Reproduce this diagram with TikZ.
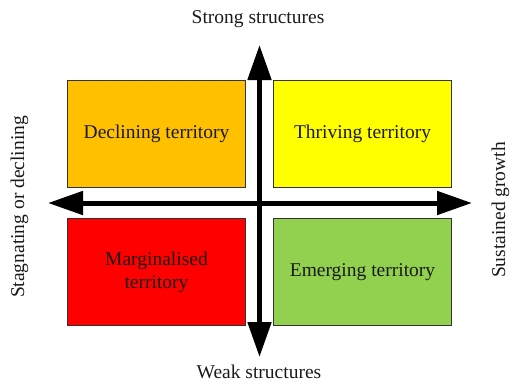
\documentclass[tikz,border=0pt]{standalone}
\usepackage{fontspec}
\setmainfont{Liberation Serif}
\usetikzlibrary{arrows.meta}
\definecolor{declining}{HTML}{FFC000}
\definecolor{thriving}{HTML}{FFFF00}
\definecolor{marginal}{HTML}{FF0000}
\definecolor{emerging}{HTML}{92D050}
\definecolor{edge}{HTML}{333333}
\definecolor{ink}{HTML}{1A1A1A}
\begin{document}
\begin{tikzpicture}[x=1pt,y=-1pt,
  every node/.style={font=\fontsize{19.5}{23}\selectfont, text=ink},
  quadrant/.style={draw=edge, line width=1pt, minimum width=178pt,
    minimum height=107pt, inner sep=0pt, align=center},
  axislabel/.style={anchor=base, inner sep=0pt},
  axis/.style={line width=5pt,
    {Triangle[width=23pt,length=35pt]}-{Triangle[width=23pt,length=35pt]}}]
  \useasboundingbox (0,0) rectangle (510,381);

  % four quadrants
  \node[quadrant, fill=declining] (dec) at (156.5,133.5) {Declining territory};
  \node[quadrant, fill=thriving]  (thr) at (362.5,133.5) {Thriving territory};
  \node[quadrant, fill=marginal]  (mar) at (156.5,272)   {Marginalised\\territory};
  \node[quadrant, fill=emerging]  (eme) at (362.5,272)   {Emerging territory};

  % axis ends
  \coordinate (top)   at (259.5,45);
  \coordinate (bot)   at (259.5,357);
  \coordinate (left)  at (48,203);
  \coordinate (right) at (472,203);

  % axes
  \draw[axis] (bot) -- (top);
  \draw[axis] (left) -- (right);

  % axis labels
  \node[axislabel] (strong) at (258,23)  {Strong structures};
  \node[axislabel] (weak)   at (259,378) {Weak structures};
  \node[axislabel, rotate=90] (stag) at (24,207) {Stagnating or declining};
  \node[axislabel, rotate=90] (grow) at (505,210) {Sustained growth};
\end{tikzpicture}
\end{document}
